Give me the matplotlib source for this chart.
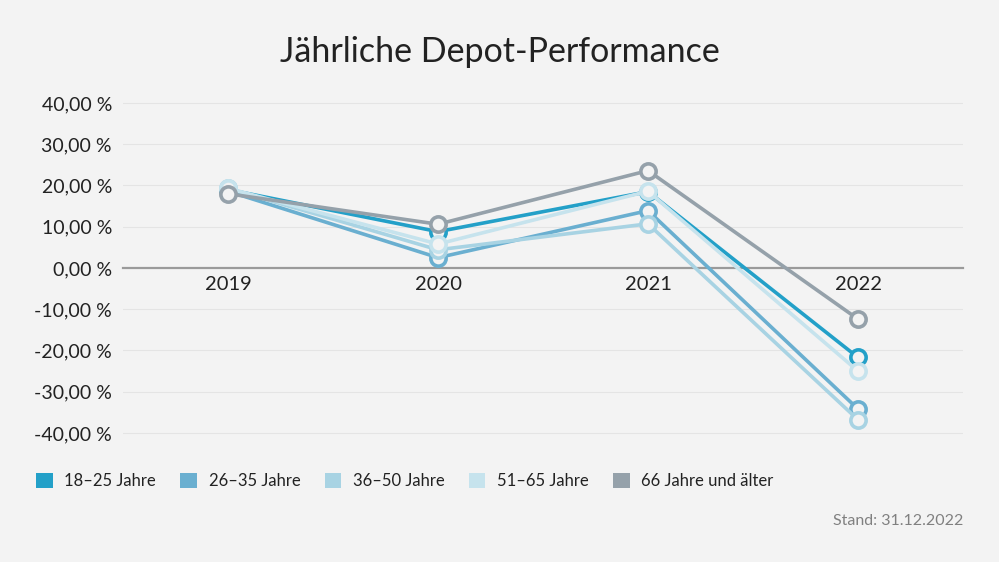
import numpy as np
import matplotlib
matplotlib.use("Agg")
import matplotlib.pyplot as plt
from matplotlib.patches import Patch

plt.rcParams['font.family'] = ['Lato', 'DejaVu Sans']

# data
years = ["2019", "2020", "2021", "2022"]
groups = ["18–25 Jahre", "26–35 Jahre", "36–50 Jahre", "51–65 Jahre", "66 Jahre und älter"]
perf_18_25 = [19.0, 8.8, 18.5, -21.7]
perf_26_35 = [18.6, 2.5, 13.9, -34.2]
perf_36_50 = [19.3, 4.4, 10.7, -36.8]
perf_51_65 = [19.3, 5.8, 18.6, -25.0]
perf_66_plus = [18.0, 10.6, 23.6, -12.4]
series = [perf_18_25, perf_26_35, perf_36_50, perf_51_65, perf_66_plus]
colors = ["#23a0c8", "#6aafd0", "#a8d3e3", "#c6e3ed", "#95a1aa"]
y_ticks = [40, 30, 20, 10, 0, -10, -20, -30, -40]

bg = "#f3f3f3"
fig = plt.figure(figsize=(9.99, 5.62), dpi=100, facecolor=bg)
ax = fig.add_axes([123 / 999, 0.1929, 840 / 999, 0.6606])
ax.set_facecolor("none")

x = np.arange(len(years))
for vals, col in zip(series, colors):
    ax.plot(x, vals, color=col, lw=2.6, marker='o', markersize=11,
            markerfacecolor=bg, markeredgecolor=col, markeredgewidth=2.6,
            solid_capstyle='round', zorder=3)

ax.set_xlim(-0.5, 3.5)
ax.set_ylim(-45, 45)
ax.set_yticks(y_ticks)
ax.set_yticklabels([f"{v:,.2f} %".replace(".", ",") for v in y_ticks])
ax.set_xticks(x)
ax.set_xticklabels(years)
for v in y_ticks:
    if v != 0:
        ax.axhline(v, color="#e4e4e4", lw=0.8, zorder=1)

for s in ["top", "right", "left"]:
    ax.spines[s].set_visible(False)
ax.spines['bottom'].set_position(('data', 0))
ax.spines['bottom'].set_color("#9a9a9a")
ax.spines['bottom'].set_linewidth(1.6)
ax.spines['bottom'].set_zorder(2)
ax.tick_params(axis='y', length=0, pad=8, labelsize=14, labelcolor="#222222")
ax.tick_params(axis='x', length=0, pad=6, labelsize=14.5, labelcolor="#222222")

fig.text(0.5, 1 - 52 / 562, "Jährliche Depot-Performance", ha='center', va='center',
         fontsize=24.5, color="#222222")

handles = [Patch(facecolor=c, edgecolor='none') for c in colors]
fig.legend(handles, groups, loc='center left', bbox_to_anchor=(21 / 999, 1 - 481 / 562),
           ncol=5, frameon=False, fontsize=12, handlelength=1.0, handleheight=1.0,
           handletextpad=0.7, columnspacing=1.45, labelcolor="#222222")

fig.text(963 / 999, 1 - 521 / 562, "Stand: 31.12.2022", ha='right', va='center',
         fontsize=11.5, color="#808080")

fig.savefig("out.png", dpi=100, facecolor=bg)
